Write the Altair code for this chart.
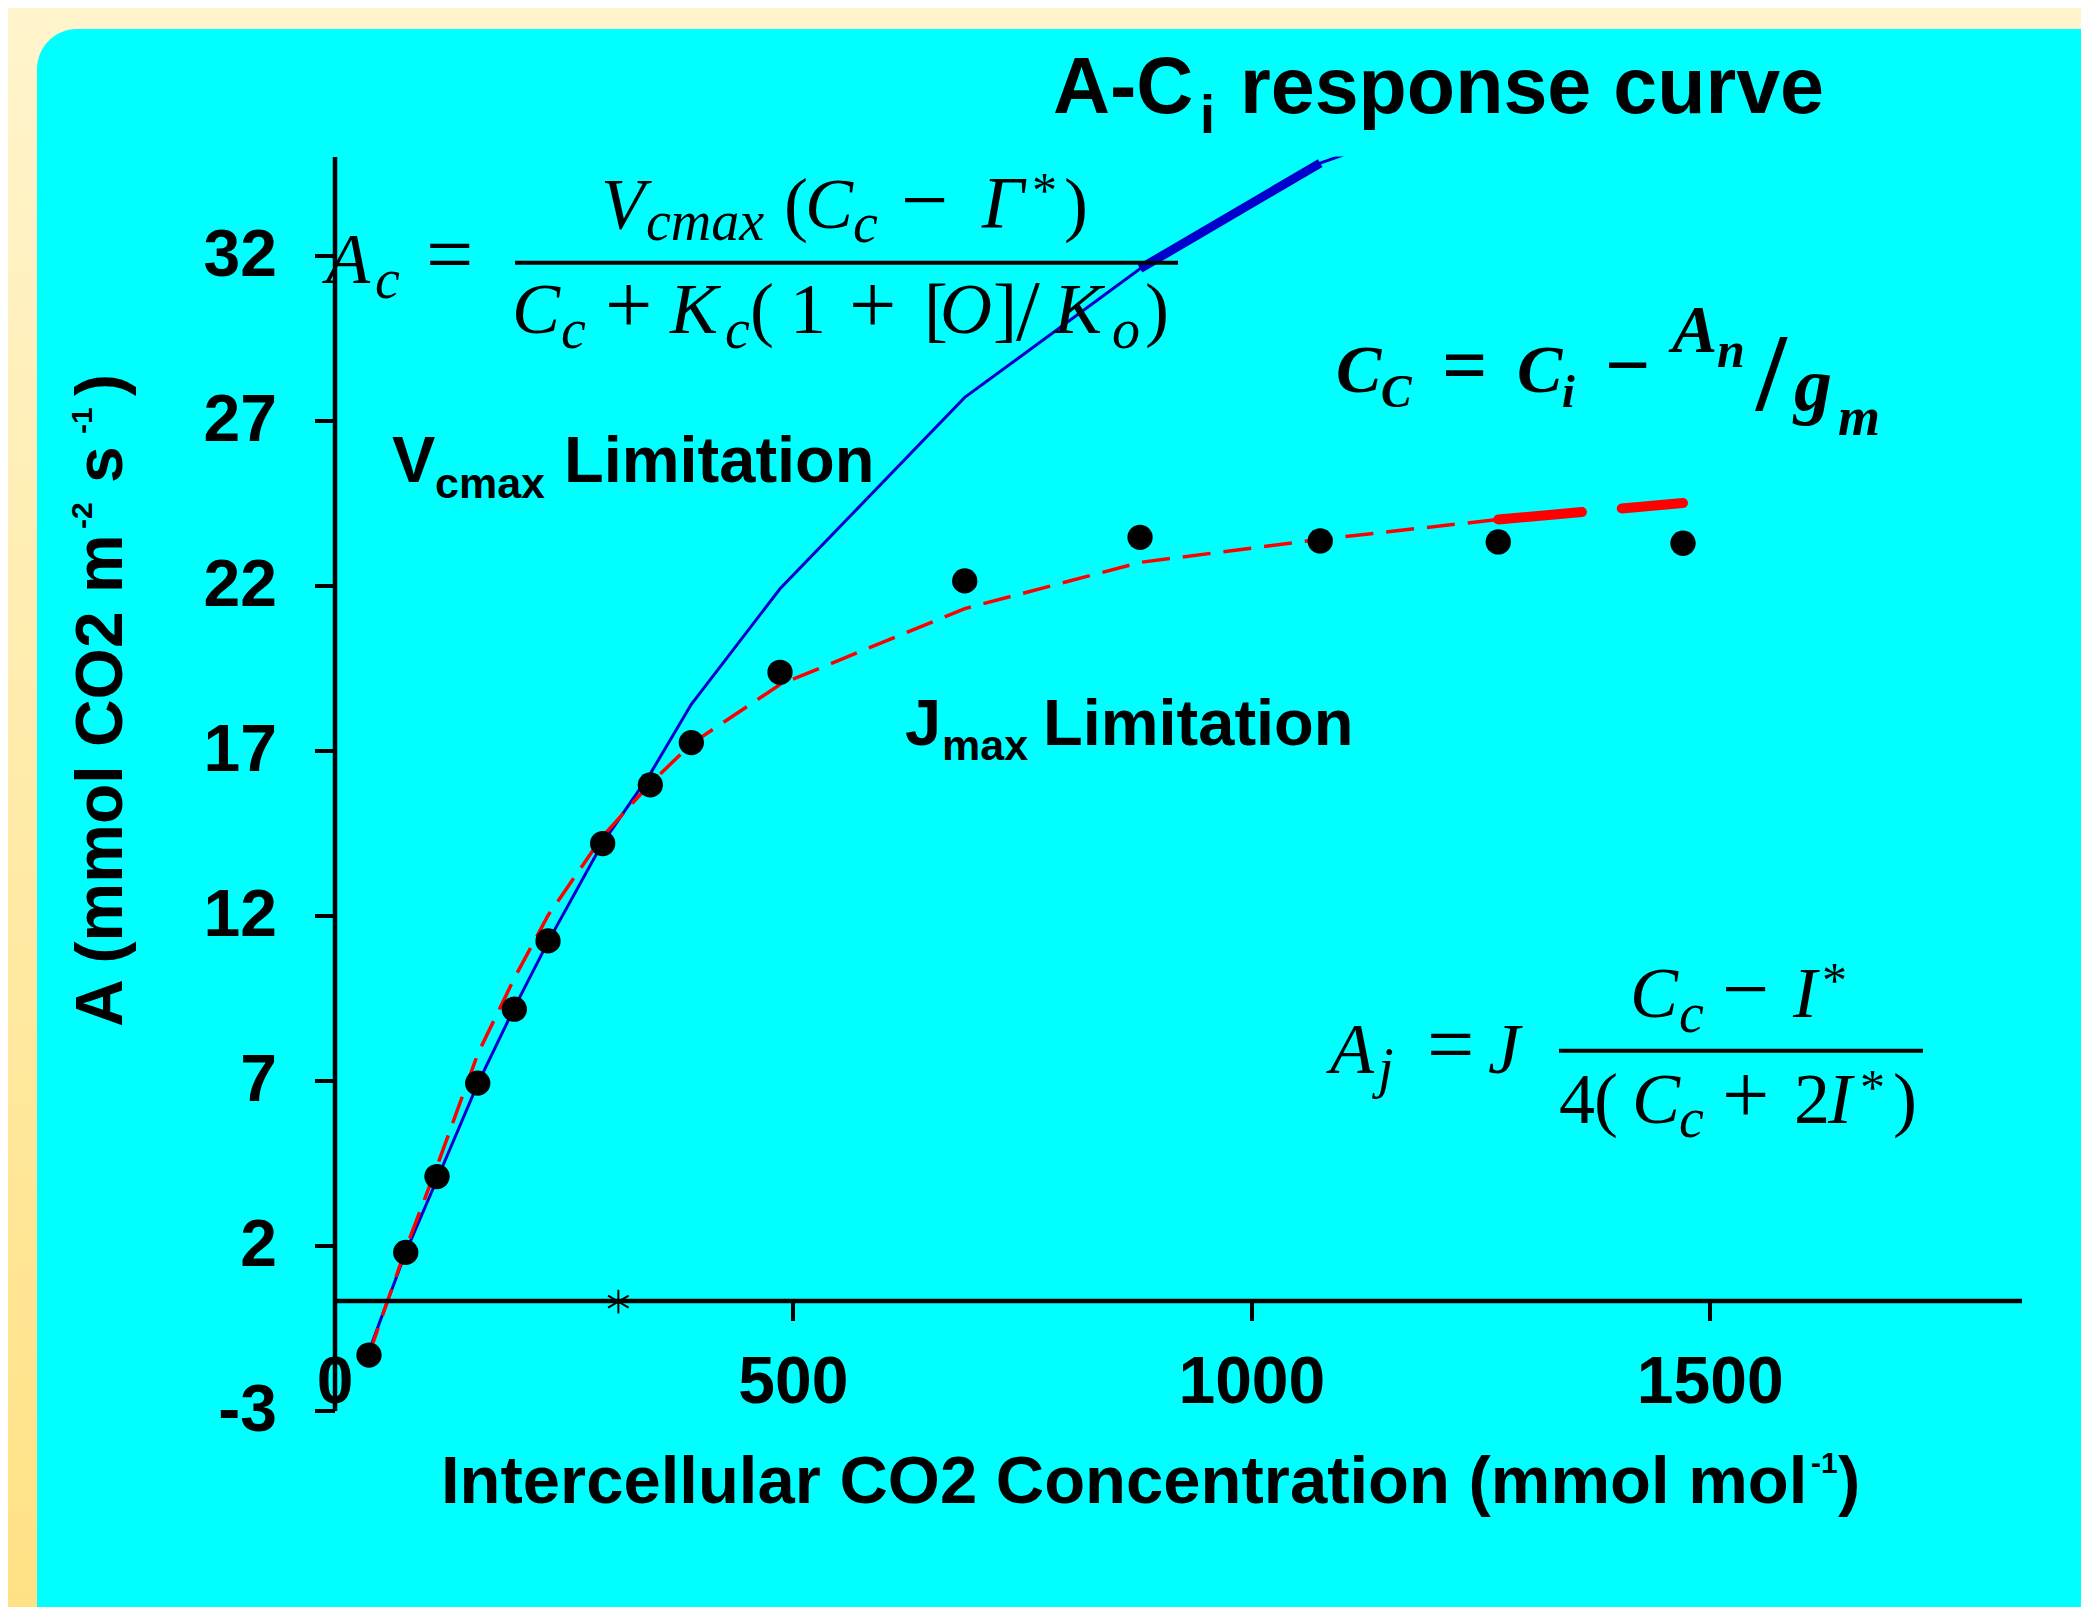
import altair as alt
import pandas as pd

# ---------------- data ----------------
ci_obs = [37.6, 77.7, 111.8, 156.2, 196.1, 232.9, 292.5, 344.5, 389.2, 485.9, 687.4, 878.6, 1075.1, 1269.3, 1470.8]
a_obs = [-1.32, 1.79, 4.09, 6.92, 9.16, 11.23, 14.18, 15.96, 17.24, 19.37, 22.14, 23.46, 23.35, 23.32, 23.28]

vc_ci = [37.6, 77.7, 111.8, 156.2, 196.1, 232.9, 292.5, 344.5, 389.2, 485.9, 687.4, 878.6, 1075.1, 1269.3]
vc_a = [-1.2, 1.8, 4.0, 6.9, 9.2, 11.2, 14.2, 16.3, 18.4, 21.9, 27.7, 31.6, 34.8, 36.7]
vc_thick_ci = [878.6, 1075.1]
vc_thick_a = [31.6, 34.8]

j_ci = [37.6, 77.7, 111.8, 156.2, 196.1, 232.9, 292.5, 344.5, 389.2, 485.9, 687.4, 878.6, 1075.1, 1269.3]
j_a = [-1.3, 1.9, 4.4, 7.8, 10.1, 12.0, 14.4, 16.0, 17.2, 19.0, 21.3, 22.7, 23.4, 24.0]
j_thick_ci = [1269.3, 1470.8]
j_thick_a = [24.0, 24.5]

gamma_ci = [309.6]
gamma_a = [0.3]

x_ticks = [0, 500, 1000, 1500]
y_ticks = [-3, 2, 7, 12, 17, 22, 27, 32]
x_domain = [0, 1840]
y_domain = [-3, 35]

# ---------------- layout (page pixels) ----------------
PAGE_M = 8
PLOT_L, PLOT_T = 334.5, 156.5
W, H = 1687, 1254
TOTAL_W, TOTAL_H = 2073, 1599
pad = {
    "left": PLOT_L - PAGE_M,
    "top": PLOT_T - PAGE_M,
    "right": TOTAL_W - (PLOT_L - PAGE_M) - W,
    "bottom": TOTAL_H - (PLOT_T - PAGE_M) - H,
}

SANS = "Liberation Sans"
SERIF = "Liberation Serif"

xs = alt.Scale(domain=x_domain, nice=False, zero=False)
ys = alt.Scale(domain=y_domain, nice=False, zero=False)
xaxis = alt.Axis(values=x_ticks, title=None, grid=False, offset=-110, zindex=2,
                 domainColor="black", domainWidth=4.5, tickColor="black",
                 tickWidth=4, tickSize=20, labelPadding=30, labelFont=SANS,
                 labelFontWeight="bold", labelFontSize=66, labelColor="black",
                 labelFlush=False, labelOverlap=False, labelBound=False,
                 labelExpr="datum.value")
yaxis = alt.Axis(values=y_ticks, title=None, grid=False, zindex=2,
                 domainColor="black", domainWidth=4.5, tickColor="black",
                 tickWidth=4, tickSize=20, labelPadding=38, labelFont=SANS,
                 labelFontWeight="bold", labelFontSize=66, labelColor="black",
                 labelFlush=False, labelOverlap=False, labelBound=False,
                 labelExpr="datum.value")


def XE(f):
    return alt.X(f"{f}:Q", scale=xs, axis=xaxis)


def YE(f):
    return alt.Y(f"{f}:Q", scale=ys, axis=yaxis)


one = pd.DataFrame({"k": [0]})

# background gradient + cyan card
bg = alt.Chart(one).mark_rect(
    color=alt.LinearGradient(gradient="linear",
                             stops=[alt.GradientStop(color="#FFF4CC", offset=0),
                                    alt.GradientStop(color="#FFE183", offset=1)],
                             x1=0, x2=0, y1=0, y2=1)
).encode(x=alt.value(-PLOT_L), x2=alt.value(2100 - PLOT_L),
         y=alt.value(-PLOT_T), y2=alt.value(1640 - PLOT_T))

card = alt.Chart(one).mark_rect(color="#00FFFF", cornerRadius=40).encode(
    x=alt.value(37 - PLOT_L), x2=alt.value(2140 - PLOT_L),
    y=alt.value(29 - PLOT_T), y2=alt.value(1680 - PLOT_T))

df_vc = pd.DataFrame({"ci": vc_ci, "a": vc_a})
df_vct = pd.DataFrame({"ci": vc_thick_ci, "a": vc_thick_a})
df_j = pd.DataFrame({"ci": j_ci, "a": j_a})
df_jt = pd.DataFrame({"ci": j_thick_ci, "a": j_thick_a})
df_obs = pd.DataFrame({"ci": ci_obs, "a": a_obs})
df_g = pd.DataFrame({"ci": gamma_ci, "a": gamma_a})

vc_line = alt.Chart(df_vc).mark_line(color="#0000CC", strokeWidth=3, clip=True).encode(
    x=XE("ci"), y=YE("a"), order="ci:Q")
vc_thick = alt.Chart(df_vct).mark_line(color="#0000CC", strokeWidth=9, clip=True).encode(
    x=XE("ci"), y=YE("a"))
j_line = alt.Chart(df_j).mark_line(color="#FF0000", strokeWidth=3.5, strokeDash=[28, 13]).encode(
    x=XE("ci"), y=YE("a"), order="ci:Q")
j_thick = alt.Chart(df_jt).mark_line(color="#FF0000", strokeWidth=10, strokeDash=[84, 40],
                                      strokeCap="round").encode(x=XE("ci"), y=YE("a"))
pts = alt.Chart(df_obs).mark_circle(size=640, color="black", opacity=1).encode(
    x=XE("ci"), y=YE("a"))
star = alt.Chart(df_g).mark_point(
    shape="M 0 -1 L 0 1 M -0.87 -0.5 L 0.87 0.5 M -0.87 0.5 L 0.87 -0.5",
    size=560, strokeWidth=2, color="black", filled=False, opacity=1).encode(
    x=XE("ci"), y=YE("a"))


# ---------------- text pieces (text, page x, page baseline y, font size) ----------------
def text_layer(rows, font, style="normal", weight="normal", angle=0):
    df = pd.DataFrame([{"t": t, "px": x - PLOT_L, "py": y - PLOT_T, "fs": s} for (t, x, y, s) in rows])
    kw = dict(align="left", baseline="alphabetic", font=font, fontStyle=style,
              fontWeight=weight, color="black")
    if angle:
        kw["angle"] = angle
    return alt.Chart(df).mark_text(**kw).encode(
        x=alt.X("px:Q", scale=None),
        y=alt.Y("py:Q", scale=None),
        size=alt.Size("fs:Q", scale=None, legend=None),
        text="t:N")


sans_rows = [
    ("A-C", 1053, 113, 79), ("i", 1200, 133, 54), ("response curve", 1240, 113, 79),
    ("V", 392, 481.7, 65), ("cmax", 435, 497.7, 43), ("Limitation", 564, 481.7, 65),
    ("J", 905, 745, 65), ("max", 942, 760, 43), ("Limitation", 1043, 745, 65),
    ("Intercellular CO2 Concentration (mmol mol", 441, 1503, 67),
    ("-1", 1811, 1473, 30), (")", 1838, 1503, 67),
]
ytitle_rows = [
    ("A (mmol CO2 m", 122, 1027, 66), ("-2", 92, 529, 30), ("s", 122, 483, 66),
    ("-1", 92, 434, 30), (")", 122, 396, 66),
]
serif_it_rows = [
    ("A", 326, 283, 72), ("c", 375, 298, 56),
    ("V", 601, 228, 72), ("cmax", 646, 240, 56), ("C", 805, 228, 72), ("c", 853, 242, 56),
    ("\u0393", 982, 228, 74),
    ("C", 512, 333, 72), ("c", 561, 348, 56), ("K", 670, 333, 72), ("c", 725, 348, 56),
    ("O", 940, 333, 72), ("K", 1054, 333, 72), ("o", 1112, 348, 56),
    ("A", 1330, 1073, 72), ("j", 1378, 1087, 56), ("J", 1488, 1073, 72),
    ("C", 1630, 1017, 72), ("c", 1679, 1032, 56), ("I", 1793, 1017, 72),
    ("C", 1632, 1123, 72), ("c", 1679, 1137, 56), ("I", 1828, 1123, 72),
]
serif_up_rows = [
    ("=", 426, 283, 84), ("(", 784, 228, 72), ("\u2212", 901, 228, 84), ("*", 1032, 207, 50),
    (")", 1064, 228, 72),
    ("+", 605, 333, 84), ("(", 750, 333, 72), ("1", 790, 333, 72), ("+", 849, 333, 84),
    ("[", 924, 333, 72), ("]", 993, 333, 72), ("/", 1016, 340, 86), (")", 1145, 333, 72),
    ("=", 1427, 1073, 84), ("\u2212", 1722, 1017, 84), ("*", 1822, 997, 50),
    ("4", 1559, 1123, 72), ("(", 1594, 1123, 72), ("+", 1722, 1123, 84), ("2", 1794, 1123, 72),
    ("*", 1860, 1104, 50), (")", 1893, 1123, 72),
]
serif_bi_rows = [
    ("C", 1336, 392, 68), ("C", 1381, 407, 46), ("C", 1517, 392, 68), ("i", 1562, 407, 46),
    ("A", 1672, 352, 68), ("n", 1717, 367, 50), ("g", 1794, 410, 76), ("m", 1838, 435, 54),
]
serif_bu_rows = [
    ("=", 1442, 392, 80), ("\u2212", 1605, 392, 80), ("/", 1756, 410, 110),
]

bars = pd.DataFrame({"px": [515 - PLOT_L, 1559 - PLOT_L], "px2": [1178 - PLOT_L, 1923 - PLOT_L],
                     "py": [262.7 - PLOT_T, 1050.7 - PLOT_T]})
bar_layer = alt.Chart(bars).mark_rule(color="black", strokeWidth=4).encode(
    x=alt.X("px:Q", scale=None), x2="px2:Q",
    y=alt.Y("py:Q", scale=None))

chart = alt.layer(
    bg, card,
    vc_line, vc_thick, j_line, j_thick, pts, star,
    bar_layer,
    text_layer(sans_rows, SANS, weight="bold"),
    text_layer(ytitle_rows, SANS, weight="bold", angle=270),
    text_layer(serif_it_rows, SERIF, style="italic"),
    text_layer(serif_up_rows, SERIF),
    text_layer(serif_bi_rows, SERIF, style="italic", weight="bold"),
    text_layer(serif_bu_rows, SERIF, weight="bold"),
).properties(
    width=W, height=H, padding=pad,
    autosize=alt.AutoSizeParams(type="none"),
    background="#FFF2C8",
).configure_view(stroke=None, fill=None)

chart.save("out.html", embed_options={"renderer": "svg", "actions": False})
